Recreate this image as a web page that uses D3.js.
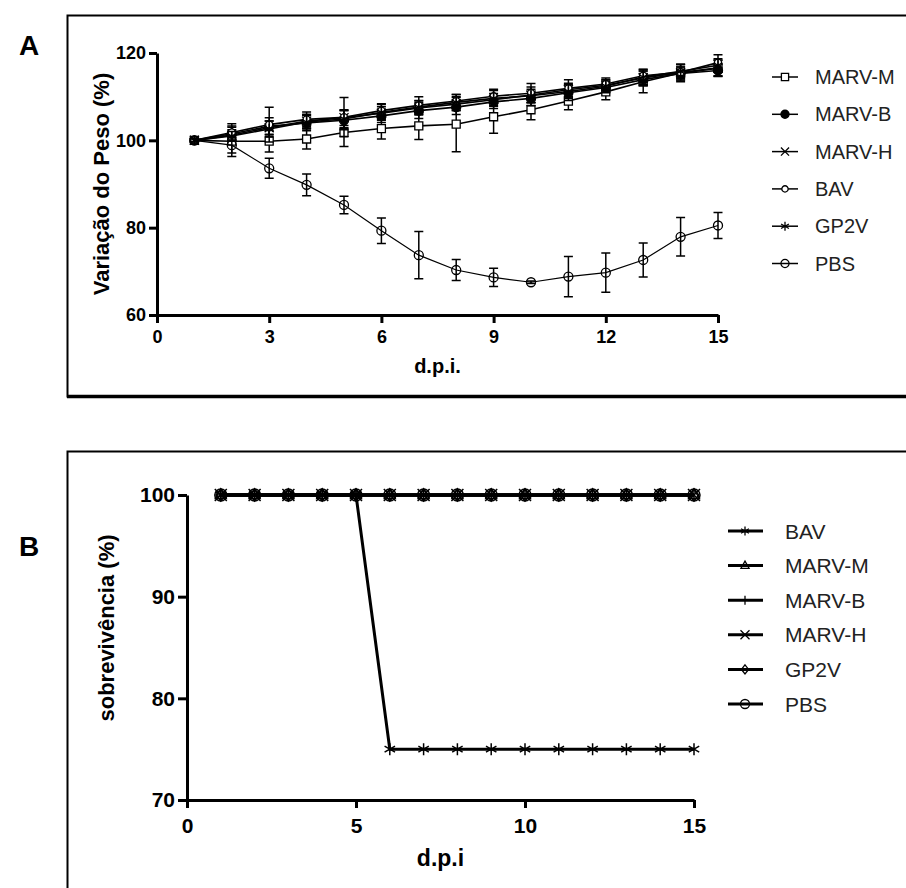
<!DOCTYPE html>
<html>
<head>
<meta charset="utf-8">
<script src="https://cdn.jsdelivr.net/npm/d3@7"></script>
<style>
  body { margin: 0; background: #fff; }
  svg { display: block; font-family: "Liberation Sans", Arial, sans-serif; }
</style>
</head>
<body>
<div id="chart"></div>
<script>
// ---- Panel A: weight change (%) per day post infection ----
const daysA = [1, 2, 3, 4, 5, 6, 7, 8, 9, 10, 11, 12, 13, 14, 15];
const ticksA = [0, 3, 6, 9, 12, 15];
const yTicksA = [60, 80, 100, 120];

const marvM = [100, 99.8, 99.8, 100.3, 101.8, 102.7, 103.3, 103.7, 105.4, 107.0, 109.0, 111.1, 113.4, 115.4, 116.5];
const marvMErr = [0.4, 3.5, 2.5, 2.3, 3.2, 2.4, 3.1, 6.3, 3.8, 2.3, 2.0, 1.8, 2.5, 2.0, 1.8];
const marvB = [100, 101.5, 103.2, 104.0, 104.6, 105.6, 106.8, 107.6, 108.8, 109.6, 110.9, 112.1, 113.9, 115.3, 116.0];
const marvBErr = [0.4, 1.5, 2.0, 1.8, 2.2, 1.5, 1.8, 1.7, 1.5, 1.6, 1.8, 1.2, 1.4, 1.5, 1.4];
const marvH = [100, 101.2, 102.9, 104.4, 105.2, 106.2, 107.4, 108.3, 109.3, 110.4, 111.6, 112.6, 114.3, 115.5, 116.6];
const marvHErr = [0.4, 1.2, 1.5, 1.6, 1.8, 1.5, 1.6, 1.5, 1.4, 1.8, 1.5, 1.3, 1.6, 1.3, 1.8];
const bavA = [100, 101.8, 103.6, 104.8, 105.3, 106.8, 108.0, 109.0, 110.1, 110.8, 111.9, 112.9, 114.8, 115.6, 117.8];
const bavAErr = [0.4, 2.0, 4.0, 1.7, 4.5, 1.6, 2.0, 1.5, 1.6, 2.2, 2.0, 1.4, 1.5, 1.8, 1.8];
const gp2v = [100, 101.0, 102.6, 104.2, 104.9, 106.4, 107.6, 108.7, 109.6, 110.2, 111.2, 112.4, 114.5, 115.8, 117.2];
const gp2vErr = [0.4, 1.0, 1.8, 1.5, 2.0, 1.8, 1.5, 1.8, 1.8, 1.5, 1.6, 1.4, 1.7, 1.5, 1.5];
const pbsA = [100, 98.9, 93.6, 89.8, 85.2, 79.3, 73.7, 70.3, 68.6, 67.5, 68.8, 69.7, 72.6, 77.9, 80.5];
const pbsAErr = [0.4, 1.8, 2.3, 2.5, 2.0, 2.9, 5.4, 2.4, 2.1, 0.3, 4.6, 4.5, 3.9, 4.4, 3.0];

// ---- Panel B: survival (%) ----
const daysB = [1, 2, 3, 4, 5, 6, 7, 8, 9, 10, 11, 12, 13, 14, 15];
const ticksB = [0, 5, 10, 15];
const yTicksB = [70, 80, 90, 100];
const bavB = [100, 100, 100, 100, 100, 75, 75, 75, 75, 75, 75, 75, 75, 75, 75];
const marvMB = [100, 100, 100, 100, 100, 100, 100, 100, 100, 100, 100, 100, 100, 100, 100];
const marvBB = [100, 100, 100, 100, 100, 100, 100, 100, 100, 100, 100, 100, 100, 100, 100];
const marvHB = [100, 100, 100, 100, 100, 100, 100, 100, 100, 100, 100, 100, 100, 100, 100];
const gp2vB = [100, 100, 100, 100, 100, 100, 100, 100, 100, 100, 100, 100, 100, 100, 100];
const pbsB = [100, 100, 100, 100, 100, 100, 100, 100, 100, 100, 100, 100, 100, 100, 100];

// series tables (marker look per group)
const seriesA = [
  { name: "MARV-M", mean: marvM, err: marvMErr, shape: "square", fill: "#fff", size: 4 },
  { name: "MARV-B", mean: marvB, err: marvBErr, shape: "circle", fill: "#000", size: 4.5 },
  { name: "MARV-H", mean: marvH, err: marvHErr, shape: "times", fill: "none", size: 4.5 },
  { name: "BAV", mean: bavA, err: bavAErr, shape: "circle", fill: "#fff", size: 3.5 },
  { name: "GP2V", mean: gp2v, err: gp2vErr, shape: "asterisk", fill: "none", size: 5 },
  { name: "PBS", mean: pbsA, err: pbsAErr, shape: "circle", fill: "none", size: 4.5 },
];
const seriesB = [
  { name: "BAV", values: bavB, shape: "asterisk" },
  { name: "MARV-M", values: marvMB, shape: "triangle" },
  { name: "MARV-B", values: marvBB, shape: "vline" },
  { name: "MARV-H", values: marvHB, shape: "times" },
  { name: "GP2V", values: gp2vB, shape: "diamond" },
  { name: "PBS", values: pbsB, shape: "circle" },
];

function markerPath(shape, s) {
  const c = s * 0.87, h = s * 0.5;
  switch (shape) {
    case "square": return `M${-s},${-s}H${s}V${s}H${-s}Z`;
    case "circle": return `M${s},0A${s},${s} 0 1,1 ${-s},0A${s},${s} 0 1,1 ${s},0Z`;
    case "times": return `M${-s},${-s}L${s},${s}M${-s},${s}L${s},${-s}`;
    case "vline": return `M0,${-s}V${s}`;
    case "asterisk": return `M0,${-s}V${s}M${-c},${-h}L${c},${h}M${-c},${h}L${c},${-h}`;
    case "triangle": return `M0,${-s}L${s * 0.9},${s * 0.6}L${-s * 0.9},${s * 0.6}Z`;
    case "diamond": return `M0,${-s}L${s * 0.8},0L0,${s}L${-s * 0.8},0Z`;
  }
}

const svg = d3.select("#chart").append("svg")
  .attr("width", 906)
  .attr("height", 888);

// panel frames (they run off the right / bottom edge of the picture)
svg.append("rect").attr("x", 67.5).attr("y", 15.5).attr("width", 900).attr("height", 381)
  .attr("fill", "none").attr("stroke", "#000").attr("stroke-width", 2);
svg.append("line").attr("x1", 67).attr("x2", 906).attr("y1", 396.5).attr("y2", 396.5)
  .attr("stroke", "#000").attr("stroke-width", 3.5);
svg.append("rect").attr("x", 67.5).attr("y", 451.5).attr("width", 900).attr("height", 500)
  .attr("fill", "none").attr("stroke", "#000").attr("stroke-width", 2);

svg.append("text").attr("x", 19).attr("y", 55).style("font-size", "28px").style("font-weight", "bold").text("A");
svg.append("text").attr("x", 19).attr("y", 556).style("font-size", "28px").style("font-weight", "bold").text("B");

function styleAxis(g, fontSize) {
  g.select(".domain").attr("stroke-width", 3);
  g.selectAll(".tick line").attr("stroke-width", 3);
  g.selectAll(".tick text")
    .attr("fill", "#000")
    .style("font-family", "'Liberation Sans', Arial, sans-serif")
    .style("font-size", fontSize + "px")
    .style("font-weight", "bold");
}

// ================= Panel A =================
function drawPanelA() {
  const x = d3.scaleLinear().domain([0, 15]).range([157, 718]);
  const y = d3.scaleLinear().domain([60, 120]).range([315, 53]);
  const g = svg.append("g");

  g.append("g")
    .attr("transform", `translate(0, ${y(60)})`)
    .call(d3.axisBottom(x).tickValues(ticksA).tickSize(8).tickSizeOuter(0).tickPadding(7))
    .call(a => styleAxis(a, 18));
  g.append("g")
    .attr("transform", `translate(${x(0)}, 0)`)
    .call(d3.axisLeft(y).tickValues(yTicksA).tickSize(8).tickSizeOuter(0).tickPadding(3))
    .call(a => styleAxis(a, 18));

  g.append("text")
    .attr("x", (x(0) + x(15)) / 2).attr("y", 373)
    .attr("text-anchor", "middle")
    .style("font-size", "20px").style("font-weight", "bold")
    .text("d.p.i.");
  g.append("text")
    .attr("transform", `translate(101, ${(y(60) + y(120)) / 2}) rotate(-90)`)
    .attr("text-anchor", "middle").attr("dominant-baseline", "central")
    .style("font-size", "22px").style("font-weight", "bold")
    .text("Variação do Peso (%)");

  const line = d3.line().x((d, i) => x(daysA[i])).y(d => y(d));

  seriesA.forEach(s => {
    const sg = g.append("g");
    sg.append("path").datum(s.mean)
      .attr("d", line).attr("fill", "none").attr("stroke", "#000")
      .attr("stroke-width", s.name === "PBS" ? 1.2 : 1.6);

    // error bars
    s.mean.forEach((m, i) => {
      const cx = x(daysA[i]);
      sg.append("path")
        .attr("d", `M${cx},${y(m - s.err[i])}V${y(m + s.err[i])}` +
          `M${cx - 4.5},${y(m - s.err[i])}H${cx + 4.5}M${cx - 4.5},${y(m + s.err[i])}H${cx + 4.5}`)
        .attr("stroke", "#000").attr("stroke-width", 1.5).attr("fill", "none");
    });

    sg.selectAll("path.mk").data(s.mean).join("path")
      .attr("class", "mk")
      .attr("transform", (d, i) => `translate(${x(daysA[i])}, ${y(d)})`)
      .attr("d", markerPath(s.shape, s.size))
      .attr("fill", s.fill).attr("stroke", "#000").attr("stroke-width", 1.3);
  });

  // legend
  const lg = g.append("g");
  seriesA.forEach((s, i) => {
    const ly = 77 + i * 37.3;
    lg.append("line").attr("x1", 772).attr("x2", 798).attr("y1", ly).attr("y2", ly)
      .attr("stroke", "#000").attr("stroke-width", 1.5);
    lg.append("path").attr("transform", `translate(785, ${ly})`)
      .attr("d", markerPath(s.shape, s.size * 0.9))
      .attr("fill", s.fill).attr("stroke", "#000").attr("stroke-width", 1.3);
    lg.append("text").attr("x", 815).attr("y", ly)
      .attr("dominant-baseline", "central")
      .attr("fill", "#222")
      .style("font-size", "20px")
      .text(s.name);
  });
}

// ================= Panel B =================
function drawPanelB() {
  const x = d3.scaleLinear().domain([0, 15]).range([187, 694]);
  const y = d3.scaleLinear().domain([70, 100]).range([800, 495]);
  const g = svg.append("g");

  g.append("g")
    .attr("transform", `translate(0, ${y(70)})`)
    .call(d3.axisBottom(x).tickValues(ticksB).tickSize(8).tickSizeOuter(0).tickPadding(10))
    .call(a => styleAxis(a, 21));
  g.append("g")
    .attr("transform", `translate(${x(0)}, 0)`)
    .call(d3.axisLeft(y).tickValues(yTicksB).tickSize(9).tickSizeOuter(0).tickPadding(3))
    .call(a => styleAxis(a, 21));

  g.append("text")
    .attr("x", (x(0) + x(15)) / 2).attr("y", 866)
    .attr("text-anchor", "middle")
    .style("font-size", "23px").style("font-weight", "bold")
    .text("d.p.i");
  g.append("text")
    .attr("transform", `translate(106, 628) rotate(-90)`)
    .attr("text-anchor", "middle").attr("dominant-baseline", "central")
    .style("font-size", "22px").style("font-weight", "bold")
    .text("sobrevivência (%)");

  const line = d3.line().x((d, i) => x(daysB[i])).y(d => y(d));

  // draw BAV last so it sits on top
  seriesB.slice().reverse().forEach(s => {
    const sg = g.append("g");
    sg.append("path").datum(s.values)
      .attr("d", line).attr("fill", "none").attr("stroke", "#000").attr("stroke-width", 3);
    sg.selectAll("path.mk").data(s.values).join("path")
      .attr("class", "mk")
      .attr("transform", (d, i) => `translate(${x(daysB[i])}, ${y(d)})`)
      .attr("d", markerPath(s.shape, 6))
      .attr("fill", "none").attr("stroke", "#000").attr("stroke-width", 1.5);
  });

  const lg = g.append("g");
  seriesB.forEach((s, i) => {
    const ly = 531 + i * 34.6;
    lg.append("line").attr("x1", 728).attr("x2", 763).attr("y1", ly).attr("y2", ly)
      .attr("stroke", "#000").attr("stroke-width", 3);
    lg.append("path").attr("transform", `translate(745, ${ly})`)
      .attr("d", markerPath(s.shape, 4.5))
      .attr("fill", "none").attr("stroke", "#000").attr("stroke-width", 1.3);
    lg.append("text").attr("x", 785).attr("y", ly)
      .attr("dominant-baseline", "central")
      .attr("fill", "#222")
      .style("font-size", "21px")
      .text(s.name);
  });
}

drawPanelA();
drawPanelB();
</script>
</body>
</html>
